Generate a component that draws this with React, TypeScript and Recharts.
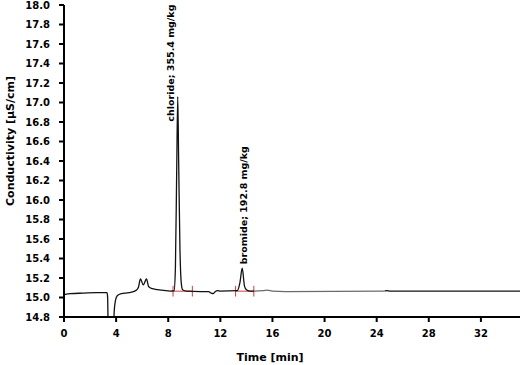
import { LineChart, Line, XAxis, YAxis, ReferenceLine, ReferenceDot } from "recharts"

// retention time [min]
const times = [
  0, 0.5, 1.5, 2.5, 3.3, 3.35, 3.4, 3.8, 3.85, 3.95, 4.1, 4.4, 5.0, 5.5, 5.7, 5.87, 6.08, 6.33, 6.5, 6.8,
  7.5, 8.2, 8.45, 8.55, 8.65, 8.73, 8.8, 8.9, 9.0, 9.1, 9.4, 10.5, 11.1, 11.3, 11.45, 11.6, 11.8, 12.0,
  13.3, 13.5, 13.68, 13.85, 14.0, 14.3, 15.3, 15.6, 16.0, 17.0, 24.5, 24.8, 25.0, 35,
]
// conductivity [µS/cm]
const conductivity = [
  15.03, 15.04, 15.045, 15.05, 15.05, 15.0, 14.6, 14.6, 14.85, 14.97, 15.02, 15.04, 15.05, 15.07, 15.1,
  15.19, 15.13, 15.19, 15.11, 15.09, 15.075, 15.065, 15.07, 15.3, 16.3, 17.06, 16.4, 15.5, 15.15, 15.08,
  15.065, 15.06, 15.06, 15.045, 15.04, 15.06, 15.07, 15.065, 15.07, 15.15, 15.3, 15.12, 15.08, 15.065,
  15.07, 15.075, 15.065, 15.06, 15.065, 15.07, 15.065, 15.065,
]

const xTicks = [0, 4, 8, 12, 16, 20, 24, 28, 32]
const yTicks = [14.8, 15.0, 15.2, 15.4, 15.6, 15.8, 16.0, 16.2, 16.4, 16.6, 16.8, 17.0, 17.2, 17.4, 17.6, 17.8, 18.0]

// peak annotations
const peakNames = ["chloride", "bromide"]
const peakConc = ["355.4 mg/kg", "192.8 mg/kg"]
const peakTimes = [8.73, 13.68]
const peakHeights = [17.06, 15.3]
// integration windows (start, end) and baseline
const intStart = [8.37, 13.17]
const intEnd = [9.85, 14.57]
const intBase = [15.065, 15.065]

const data = times.map((t, i) => ({ t, v: conductivity[i] }))

const font = "'DejaVu Sans', Verdana, sans-serif"
const red = "#d23c3c"

// label placement relative to the peak tip (px)
const labelShift = [
  { dx: -7, dy: 25 },
  { dx: 1, dy: -4 },
]

export default function App() {
  return (
    <div style={{ position: "absolute", left: 0, top: 0, background: "#fff" }}>
      <LineChart width={520} height={365} data={data} margin={{ top: 5, right: 0, bottom: 0, left: 0 }}>
        <defs>
          <linearGradient id="trace" x1="0" y1="0" x2="1" y2="0">
            <stop offset={14.6 / 35} stopColor="#111" />
            <stop offset={14.6 / 35} stopColor="#6a6a6a" />
            <stop offset={24.6 / 35} stopColor="#6a6a6a" />
            <stop offset={24.6 / 35} stopColor="#111" />
          </linearGradient>
        </defs>
        <XAxis
          type="number"
          dataKey="t"
          domain={[0, 35]}
          ticks={xTicks}
          allowDataOverflow
          height={48}
          axisLine={{ stroke: "#000", strokeWidth: 2 }}
          tickLine={{ stroke: "#000", strokeWidth: 2 }}
          tickSize={5}
          tickMargin={8}
          tick={{ fill: "#000", fontSize: 10, fontWeight: "bold", fontFamily: font }}
          label={{
            value: "Time [min]",
            position: "insideBottom",
            offset: 4,
            dx: -22,
            fill: "#000",
            fontSize: 11,
            fontWeight: "bold",
            fontFamily: font,
          }}
        />
        <YAxis
          type="number"
          domain={[14.8, 18]}
          ticks={yTicks}
          allowDataOverflow
          width={64}
          interval={0}
          axisLine={{ stroke: "#000", strokeWidth: 2 }}
          tickLine={{ stroke: "#000", strokeWidth: 2 }}
          tickSize={5}
          tickMargin={9}
          tickFormatter={(v: number) => v.toFixed(1)}
          tick={{ fill: "#000", fontSize: 10, fontWeight: "bold", fontFamily: font }}
          label={{
            content: () => (
              <text
                x={10}
                y={141}
                transform="rotate(-90 10 141)"
                textAnchor="middle"
                dominantBaseline="central"
                fill="#000"
                fontSize={11}
                fontWeight="bold"
                fontFamily={font}
              >
                Conductivity [µS/cm]
              </text>
            ),
          }}
        />
        {intStart.map((s, i) => (
          <ReferenceLine
            key={"b" + i}
            segment={[
              { x: s, y: intBase[i] },
              { x: intEnd[i], y: intBase[i] },
            ]}
            stroke={red}
            strokeWidth={1}
          />
        ))}
        {[...intStart, ...intEnd].map((x, i) => (
          <ReferenceLine
            key={"k" + i}
            segment={[
              { x, y: intBase[i % 2] - 0.055 },
              { x, y: intBase[i % 2] + 0.055 },
            ]}
            stroke={red}
            strokeWidth={1}
          />
        ))}
        <Line
          type="monotone"
          dataKey="v"
          stroke="url(#trace)"
          strokeWidth={1.3}
          dot={false}
          isAnimationActive={false}
        />
        {peakNames.map((name, i) => (
          <ReferenceDot
            key={name}
            x={peakTimes[i]}
            y={peakHeights[i]}
            ifOverflow="visible"
            shape={(p: any) => {
              const x = p.cx + labelShift[i].dx
              const y = p.cy + labelShift[i].dy
              return (
                <text
                  x={x}
                  y={y}
                  transform={`rotate(-90 ${x} ${y})`}
                  textAnchor="start"
                  dominantBaseline="central"
                  fill="#000"
                  fontSize={9.5}
                  fontWeight="bold"
                  fontFamily={font}
                >
                  {`${name}; ${peakConc[i]}`}
                </text>
              )
            }}
          />
        ))}
      </LineChart>
    </div>
  )
}
